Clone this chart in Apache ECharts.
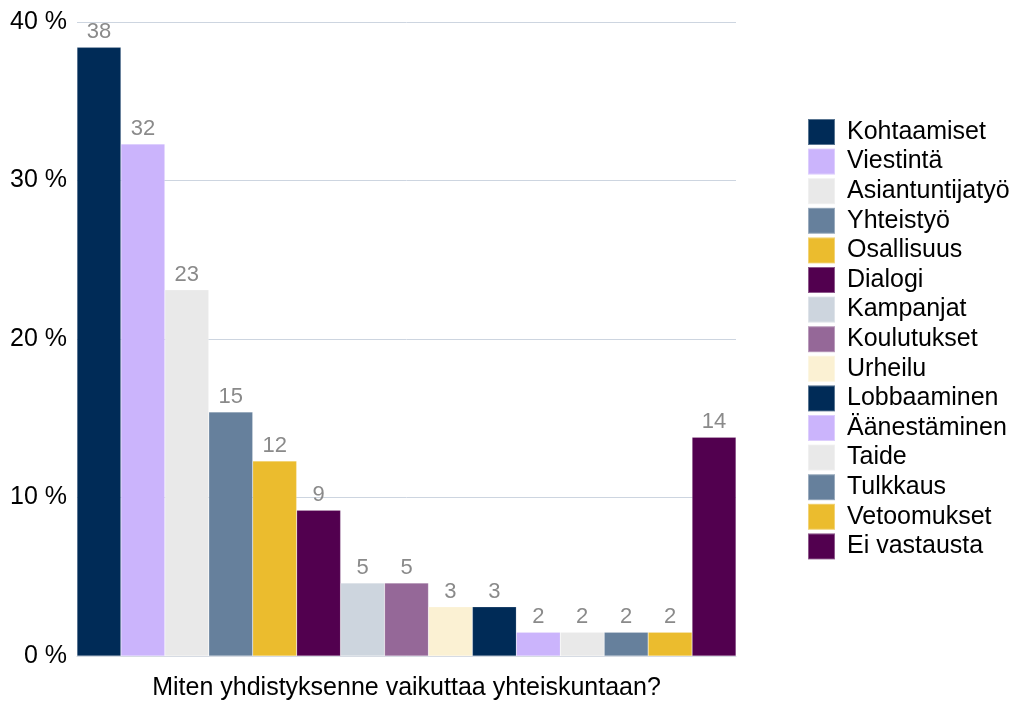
<!DOCTYPE html>
<html>
<head>
<meta charset="utf-8">
<script src="https://cdn.jsdelivr.net/npm/echarts@6/dist/echarts.min.js"></script>
<style>
  html, body { margin: 0; padding: 0; background: #fff; }
  #chart { width: 1016px; height: 702px; }
</style>
</head>
<body>
<div id="chart"></div>
<script>
// vastausvaihtoehdot (legend order = bar order)
const names = [
  'Kohtaamiset', 'Viestintä', 'Asiantuntijatyö', 'Yhteistyö', 'Osallisuus',
  'Dialogi', 'Kampanjat', 'Koulutukset', 'Urheilu', 'Lobbaaminen',
  'Äänestäminen', 'Taide', 'Tulkkaus', 'Vetoomukset', 'Ei vastausta'
];
// osuudet prosentteina, luettu kuvasta
const values = [38.4, 32.3, 23.1, 15.4, 12.3, 9.2, 4.6, 4.6, 3.1, 3.1, 1.5, 1.5, 1.5, 1.5, 13.8];
const colors = [
  '#002B57', '#CBB4FC', '#E9E9E9', '#66809C', '#EBBC2E',
  '#52004F', '#CDD5DE', '#956898', '#FBF1D3', '#002B57',
  '#CBB4FC', '#E9E9E9', '#66809C', '#EBBC2E', '#52004F'
];
const yTicks = [0, 10, 20, 30, 40];
const category = ['Miten yhdistyksenne vaikuttaa yhteiskuntaan?'];

const chart = echarts.init(document.getElementById('chart'));

const series = names.map((name, i) => ({
  name: name,
  type: 'bar',
  data: [values[i]],
  barGap: '0%',
  barCategoryGap: '0%',
  itemStyle: {
    color: colors[i],
    borderColor: 'rgba(255,255,255,0.35)',
    borderWidth: 0.5
  },
  label: {
    show: true,
    position: 'top',
    distance: 4,
    color: '#8A8A8A',
    fontSize: 22,
    fontFamily: 'Liberation Sans',
    formatter: p => Math.round(p.value)
  }
}));

chart.setOption({
  animation: false,
  color: colors,
  textStyle: { fontFamily: 'Liberation Sans' },
  grid: {
    left: 77,
    right: 280,
    top: 22,
    bottom: 46,
    outerBoundsMode: 'none',
    containLabel: false
  },
  legend: {
    orient: 'vertical',
    left: 802,
    top: 113,
    itemWidth: 27,
    itemHeight: 26,
    itemGap: 1.6,
    icon: 'rect',
    textStyle: {
      fontSize: 25,
      lineHeight: 26,
      color: '#000',
      padding: [0, 0, 0, 7],
      fontFamily: 'Liberation Sans'
    },
    data: names
  },
  xAxis: {
    type: 'category',
    data: category,
    axisTick: { show: false },
    axisLabel: { show: false },
    axisLine: { lineStyle: { color: '#D5DAE2' } },
    name: category[0],
    nameLocation: 'middle',
    nameGap: 20,
    nameTextStyle: { fontSize: 25, color: '#000', fontFamily: 'Liberation Sans' }
  },
  yAxis: {
    type: 'value',
    min: yTicks[0],
    max: yTicks[yTicks.length - 1],
    interval: 10,
    axisLabel: {
      formatter: '{value} %',
      fontSize: 25,
      color: '#000',
      margin: 10,
      fontFamily: 'Liberation Sans'
    },
    axisLine: { show: false },
    axisTick: { show: false },
    splitLine: { lineStyle: { color: '#CDD5E0', width: 1 } }
  },
  series: series
});
</script>
</body>
</html>
